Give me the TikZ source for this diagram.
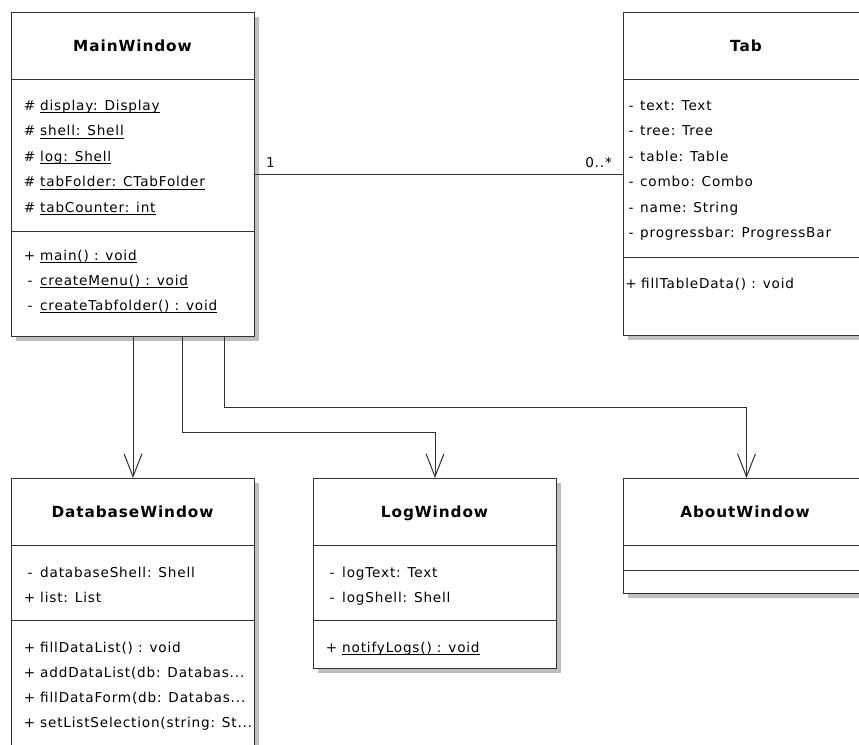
\documentclass[tikz,border=0pt]{standalone}
\usepackage{fontspec}
\setmainfont{DejaVu Sans}[LetterSpace=6]
\usetikzlibrary{shadows,calc,arrows.meta}
\newcommand\stat[1]{\setbox0=\hbox{#1}\rlap{\rule[-3pt]{\wd0}{0.9pt}}\box0}
\tikzset{
  classbox/.style={draw=black!80, line width=1pt, fill=white, rectangle, inner sep=0pt, anchor=north west,
    drop shadow={shadow xshift=4pt, shadow yshift=-4pt, fill=black!25, opacity=1}},
  divider/.style={draw=black!80, line width=1pt},
  txt/.style={anchor=base west, inner sep=0pt, font=\fontsize{13.6}{16}\selectfont},
  pre/.style={anchor=base, inner sep=0pt, font=\fontsize{13.6}{16}\selectfont},
  ttl/.style={anchor=base, inner sep=0pt, font=\fontsize{15.3}{18}\selectfont\bfseries},
  link/.style={draw=black!80, line width=1pt},
  dep/.style={link, -{Straight Barb[length=23pt,width=18pt,line width=1pt]}},
}
\begin{document}
\begin{tikzpicture}[x=1pt,y=-1pt]
\useasboundingbox (0,0) rectangle (859,744);
\clip (0,0) rectangle (859,744);
% class boxes
\node[classbox, minimum width=243pt, minimum height=324pt] (main) at (11,12) {};
\node[classbox, minimum width=243pt, minimum height=323pt] (tab) at (623,12) {};
\node[classbox, minimum width=243pt, minimum height=300pt] (db) at (11,478) {};
\node[classbox, minimum width=243pt, minimum height=190pt] (log) at (313,478) {};
\node[classbox, minimum width=243pt, minimum height=115pt] (about) at (623,478) {};
% dividers
\draw[divider] (main.west |- 0,79) -- (main.east |- 0,79);
\draw[divider] (main.west |- 0,231) -- (main.east |- 0,231);
\draw[divider] (tab.west |- 0,79) -- (tab.east |- 0,79);
\draw[divider] (tab.west |- 0,257) -- (tab.east |- 0,257);
\draw[divider] (db.west |- 0,545) -- (db.east |- 0,545);
\draw[divider] (db.west |- 0,620) -- (db.east |- 0,620);
\draw[divider] (log.west |- 0,545) -- (log.east |- 0,545);
\draw[divider] (log.west |- 0,620) -- (log.east |- 0,620);
\draw[divider] (about.west |- 0,545) -- (about.east |- 0,545);
\draw[divider] (about.west |- 0,570) -- (about.east |- 0,570);
% titles
\node[ttl] (mainT) at (132.5,51) {MainWindow};
\node[ttl] (tabT) at (746,51) {Tab};
\node[ttl] (dbT) at (132.5,517) {DatabaseWindow};
\node[ttl] (logT) at (434.5,517) {LogWindow};
\node[ttl] (aboutT) at (745,517) {AboutWindow};
% MainWindow members
\node[pre] (mp1) at (29.5,110) {\#};   \node[txt] (ma1) at (40,110) {\stat{display: Display}};
\node[pre] (mp2) at (29.5,135.5) {\#}; \node[txt] (ma2) at (40,135.5) {\stat{shell: Shell}};
\node[pre] (mp3) at (29.5,161) {\#};   \node[txt] (ma3) at (40,161) {\stat{log: Shell}};
\node[pre] (mp4) at (29.5,186.5) {\#}; \node[txt] (ma4) at (40,186.5) {\stat{tabFolder: CTabFolder}};
\node[pre] (mp5) at (29.5,212) {\#};   \node[txt] (ma5) at (40,212) {\stat{tabCounter: int}};
\node[pre] (mp6) at (29.5,260) {+};    \node[txt] (mm1) at (40,260) {\stat{main() : void}};
\node[pre] (mp7) at (30,285) {-};      \node[txt] (mm2) at (40,285) {\stat{createMenu() : void}};
\node[pre] (mp8) at (30,310) {-};      \node[txt] (mm3) at (40,310) {\stat{createTabfolder() : void}};
% Tab members
\node[pre] (tp1) at (631,110) {-};   \node[txt] (ta1) at (640,110) {text: Text};
\node[pre] (tp2) at (631,135.5) {-}; \node[txt] (ta2) at (640,135.5) {tree: Tree};
\node[pre] (tp3) at (631,161) {-};   \node[txt] (ta3) at (640,161) {table: Table};
\node[pre] (tp4) at (631,186.5) {-}; \node[txt] (ta4) at (640,186.5) {combo: Combo};
\node[pre] (tp5) at (631,212) {-};   \node[txt] (ta5) at (640,212) {name: String};
\node[pre] (tp6) at (631,237.5) {-}; \node[txt] (ta6) at (640,237.5) {progressbar: ProgressBar};
\node[pre] (tp7) at (631,288) {+};   \node[txt] (tm1) at (641,288) {fillTableData() : void};
% DatabaseWindow members
\node[pre] (dp1) at (30,577) {-};   \node[txt] (da1) at (40,577) {databaseShell: Shell};
\node[pre] (dp2) at (29.5,602) {+}; \node[txt] (da2) at (40,602) {list: List};
\node[pre] (dp3) at (29.5,652) {+}; \node[txt] (dm1) at (40,652) {fillDataList() : void};
\node[pre] (dp4) at (29.5,677) {+}; \node[txt] (dm2) at (40,677) {addDataList(db: Databas...};
\node[pre] (dp5) at (29.5,702) {+}; \node[txt] (dm3) at (40,702) {fillDataForm(db: Databas...};
\node[pre] (dp6) at (29.5,727) {+}; \node[txt] (dm4) at (40,727) {setListSelection(string: St...};
% LogWindow members
\node[pre] (lp1) at (332,577) {-};   \node[txt] (la1) at (342,577) {logText: Text};
\node[pre] (lp2) at (332,602) {-};   \node[txt] (la2) at (342,602) {logShell: Shell};
\node[pre] (lp3) at (331.5,652) {+}; \node[txt] (lm1) at (342,652) {\stat{notifyLogs() : void}};
% association
\draw[link] (main.east |- 0,174) -- (tab.west |- 0,174);
\node[txt] (m1) at (266,167) {1};
\node[txt, anchor=base east] (m2) at (612,167) {0..*};
% dependencies
\coordinate (turnLog) at (0,432);
\coordinate (turnAbout) at (0,407);
\draw[dep] ([xshift=122pt]main.south west) -- ([xshift=122pt]db.north west);
\draw[dep] ([xshift=171pt]main.south west) -- ([xshift=171pt]main.south west |- turnLog) -- (log.north |- turnLog) -- (log.north);
\draw[dep] ([xshift=213pt]main.south west) -- ([xshift=213pt]main.south west |- turnAbout) -- ([xshift=1.5pt]about.north |- turnAbout) -- ([xshift=1.5pt]about.north);
\end{tikzpicture}
\end{document}
